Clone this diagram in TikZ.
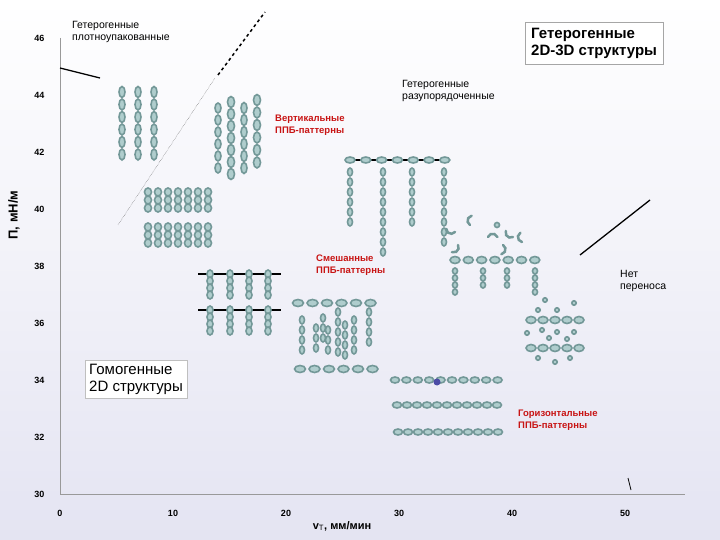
\documentclass[tikz,border=0pt]{standalone}
\usepackage{fontspec}
\setmainfont{Liberation Sans}
\begin{document}
\begin{tikzpicture}[x=1pt,y=-1pt,
  mol/.style={draw=molc,line width=1.6pt,fill=molf},
  lbl/.style={font=\fontsize{10.5}{12.5}\selectfont,align=left,anchor=north west,inner sep=0pt},
  red lbl/.style={lbl,text=redc,font=\bfseries\fontsize{9.5}{11.5}\selectfont},
  tick/.style={font=\bfseries\fontsize{9}{10}\selectfont}]
\definecolor{molc}{RGB}{115,152,152}
\definecolor{molf}{RGB}{175,205,205}
\definecolor{redc}{RGB}{200,20,20}
\useasboundingbox (0,0) rectangle (720,540);
\shade[top color=white,bottom color={rgb,255:red,228;green,228;blue,242}] (0,0) rectangle (720,540);
\newcommand\vch[6]{\foreach \k in {1,...,#3}{\draw[mol] (#1,{#2+(\k-1)*#4}) ellipse [x radius=#5,y radius=#6];}}
\newcommand\hch[6]{\foreach \k in {1,...,#3}{\draw[mol] ({#1+(\k-1)*#4},#2) ellipse [x radius=#5,y radius=#6];}}
% axes
\draw[gray!80,line width=0.8pt] (60,38) -- (60,494) -- (685,494);
\foreach \v/\yy in {46/38,44/95,42/152,40/209,38/266,36/323,34/380,32/437,30/494}
  \node[tick,anchor=east] at (48,\yy) {\v};
\foreach \v/\xx in {0/60,10/173,20/286,30/399,40/512,50/625}
  \node[tick] at (\xx,513) {\v};
\node[rotate=90,font=\bfseries\fontsize{13}{14}\selectfont] at (14,215) {П, мН/м};
\node[font=\bfseries\fontsize{11}{12}\selectfont] at (342,526) {v$_\mathrm{T}$, мм/мин};
% texts
\node[lbl] at (72,21) {Гетерогенные\\плотноупакованные};
\node[draw=gray!70,fill=white,inner sep=6pt,align=left,font=\bfseries\fontsize{15}{17}\selectfont,anchor=north west] at (525,22) {Гетерогенные\\2D-3D структуры};
\node[lbl] at (402,80) {Гетерогенные\\разупорядоченные};
\node[red lbl] at (275,115) {Вертикальные\\ППБ-паттерны};
\node[red lbl] at (316,255) {Смешанные\\ППБ-паттерны};
\node[lbl] at (620,270) {Нет\\переноса};
\node[draw=gray!50,fill=white,inner sep=4pt,align=left,font=\fontsize{15}{17}\selectfont,anchor=north west] at (85,360) {Гомогенные\\2D структуры};
\node[red lbl] at (518,410) {Горизонтальные\\ППБ-паттерны};
% lines
\draw[line width=1.3pt] (60,68) -- (100,78);
\draw[line width=1.5pt,dashed] (218,75) -- (265,12);
\draw[densely dotted,gray!60!black] (118,225) -- (215,78);
\draw[line width=1.3pt] (580,255) -- (650,200);
\draw[line width=0.8pt] (628,478) -- (631,490);
% group 1
\foreach \xx in {122,138,154} {\vch{\xx}{92}{6}{12.5}{3}{5.5}}
% group 2
\vch{218}{108}{6}{12}{3}{5}
\vch{231}{102}{7}{12}{3.5}{5.5}
\vch{244}{108}{6}{12}{3}{5.5}
\vch{257}{100}{6}{12.5}{3.5}{5.5}
% group 3
\foreach \xx in {148,158,...,208} {\vch{\xx}{192}{3}{8}{3.5}{4} \vch{\xx}{227}{3}{8}{3.5}{4}}
% group 4
\draw[line width=1.2pt] (350,160) -- (445,160);
\hch{350}{160}{7}{15.8}{5}{3}
\vch{350}{172}{6}{10}{2.5}{4}
\vch{383}{172}{9}{10}{2.5}{4}
\vch{412}{172}{6}{10}{2.5}{4}
\vch{444}{172}{8}{10}{2.5}{4}
% group 5 fragments
\foreach \a/\b/\c in {455/232/40,470/225/120,488/237/200,503/245/300,513/237/60,522/242/100,458/245/330}
  \draw[molc,line width=2.5pt,line cap=round] (\a,\b) arc[start angle=\c,delta angle=140,radius=5];
\draw[mol] (497,225) circle (2.5);
% group 6
\hch{455}{260}{7}{13.3}{5}{3.5}
\vch{455}{271}{4}{7}{2.5}{3}
\vch{483}{271}{3}{7}{2.5}{3}
\vch{507}{271}{3}{7}{2.5}{3}
\vch{535}{271}{4}{7}{2.5}{3}
% group 7
\foreach \yy in {274,310} {
  \draw[line width=1.5pt] (198,\yy) -- (281,\yy);
  \foreach \xx in {210,230,249,268} {\vch{\xx}{\yy}{4}{7}{3}{4}}}
% group 8
\hch{298}{303}{6}{14.5}{5.5}{3.5}
\hch{300}{369}{6}{14.5}{5.5}{3.5}
\vch{302}{320}{4}{10}{2.5}{4}
\vch{316}{328}{3}{10}{2.5}{4}
\vch{323}{318}{3}{10}{2.5}{4}
\vch{328}{330}{3}{10}{2.5}{4}
\vch{338}{312}{5}{10}{2.5}{4}
\vch{345}{325}{4}{10}{2.5}{4}
\vch{354}{320}{4}{10}{2.5}{4}
\vch{369}{312}{4}{10}{2.5}{4}
% group 9
\hch{531}{320}{5}{12}{5}{3.5}
\hch{531}{348}{5}{12}{5}{3.5}
\foreach \a/\b in {545/300,574/303,538/310,557/310,527/333,542/330,557/332,574/332,549/338,567/339,538/358,555/362,570/358}
  \draw[mol] (\a,\b) circle (2.2);
% group 10
\hch{395}{380}{10}{11.4}{4.5}{3}
\fill[blue!50!black!70] (437,382) circle (3.5);
\hch{397}{405}{11}{10}{4.5}{3}
\hch{398}{432}{11}{10}{4.5}{3}
\end{tikzpicture}
\end{document}
